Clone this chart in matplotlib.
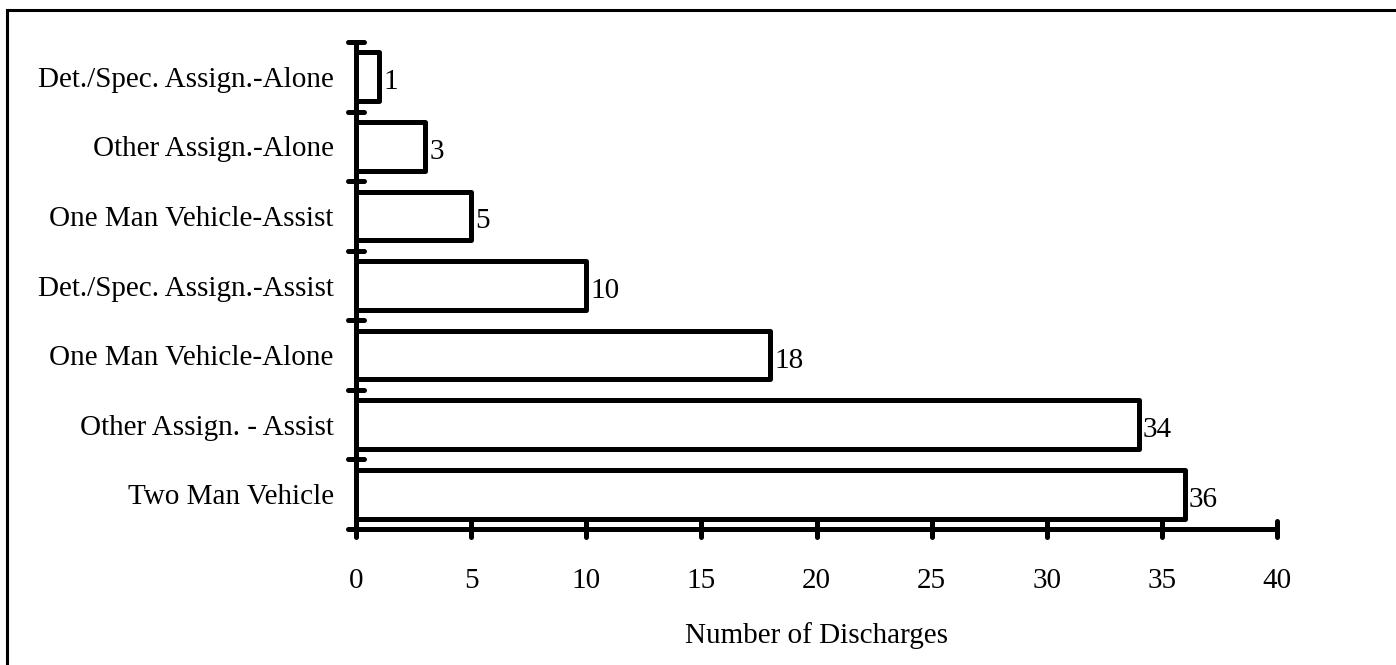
import matplotlib.pyplot as plt
from matplotlib.lines import Line2D

categories = ['Two Man Vehicle', 'Other Assign. - Assist', 'One Man Vehicle-Alone',
              'Det./Spec. Assign.-Assist', 'One Man Vehicle-Assist',
              'Other Assign.-Alone', 'Det./Spec. Assign.-Alone']
discharges = [36, 34, 18, 10, 5, 3, 1]
xticks = [0, 5, 10, 15, 20, 25, 30, 35, 40]

plt.rcParams['font.family'] = ['Liberation Serif', 'DejaVu Serif']
fs = 21

W, H = 1396, 665
fig = plt.figure(figsize=(W / 100, H / 100), dpi=100)
ax = fig.add_axes([356 / W, 1 - 529 / H, (1277 - 356) / W, (529 - 42) / H])

ypos = list(range(len(categories)))
ax.barh(ypos, discharges, height=0.7, color='white', edgecolor='black',
        linewidth=3.6, joinstyle='round')
for y, v in zip(ypos, discharges):
    ax.text(v + 0.18, y - 0.08, str(v), va='center', ha='left', fontsize=fs)

ax.set_xlim(0, 40)
ax.set_ylim(-0.5, len(categories) - 0.5)
ax.set_xticks(xticks)
ax.set_xticklabels([str(t) for t in xticks], fontsize=fs)
ax.set_yticks(ypos)
ax.set_yticklabels(categories, fontsize=fs)
ax.tick_params(axis='y', length=0, pad=16)
ax.tick_params(axis='x', length=0, pad=28)

# boundary tick marks crossing the axes
for b in [i - 0.5 for i in range(len(categories) + 1)]:
    ax.plot([-0.35, 0.35], [b, b], color='black', lw=3.6, solid_capstyle='round',
            clip_on=False, zorder=5)
for t in xticks:
    ax.plot([t, t], [-0.62, -0.38], color='black', lw=3.6, solid_capstyle='round',
            clip_on=False, zorder=5)

for s in ['top', 'right']:
    ax.spines[s].set_visible(False)
for s in ['left', 'bottom']:
    ax.spines[s].set_linewidth(3.6)
    ax.spines[s].set_capstyle('round')

ax.set_xlabel('Number of Discharges', fontsize=fs, labelpad=20)

# frame around the chart (left and top edges only visible)
fig.add_artist(Line2D([7 / W, 7 / W], [0, 1 - 10 / H], color='black', lw=2.2,
                      transform=fig.transFigure))
fig.add_artist(Line2D([7 / W, 1], [1 - 10 / H, 1 - 10 / H], color='black', lw=2.2,
                      transform=fig.transFigure))

fig.savefig('out.png', dpi=100)
